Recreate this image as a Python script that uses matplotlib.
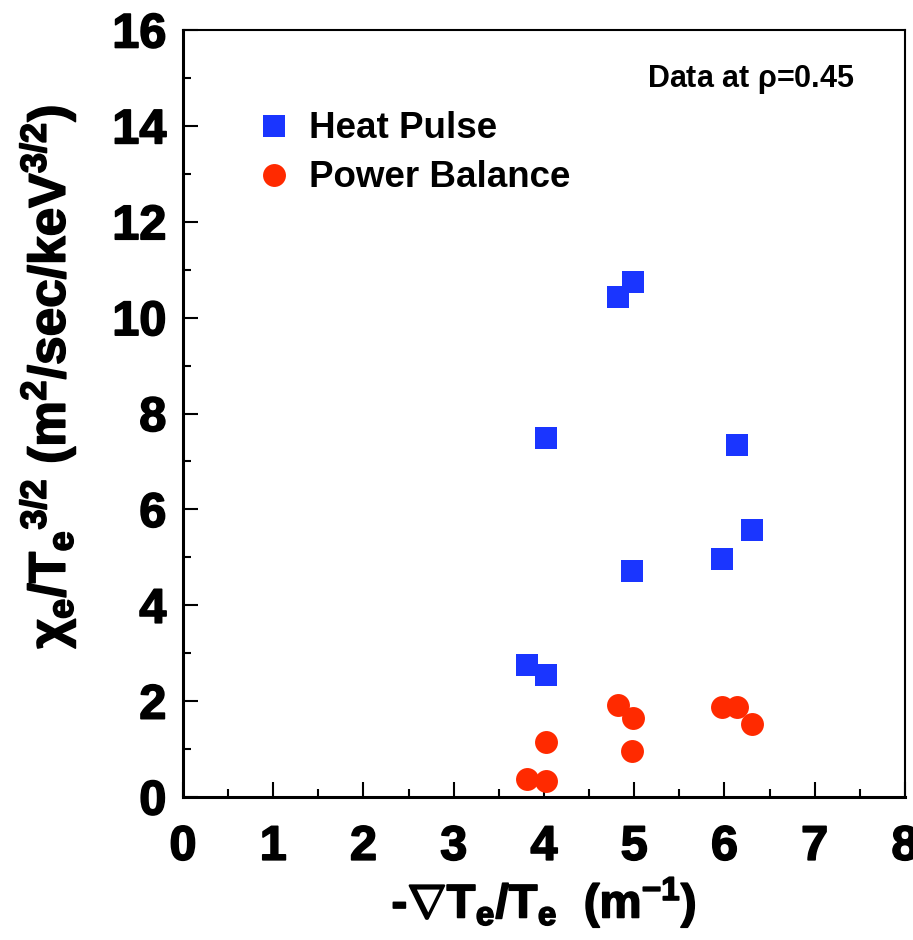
import matplotlib
matplotlib.use("Agg")
import matplotlib.pyplot as plt
import matplotlib.patheffects as pe
from matplotlib.ticker import MultipleLocator

plt.rcParams['font.family'] = ['Liberation Sans', 'DejaVu Sans']
plt.rcParams['font.weight'] = 'bold'
plt.rcParams['mathtext.fontset'] = 'custom'
plt.rcParams['mathtext.rm'] = 'Liberation Sans:bold'
plt.rcParams['mathtext.it'] = 'Liberation Sans:bold'
plt.rcParams['mathtext.bf'] = 'Liberation Sans:bold'

# gradient scale length and normalised diffusivity
grad_x = [3.81, 4.02, 4.02, 4.82, 4.99, 4.98, 5.97, 6.14, 6.30]
heat_pulse = [2.75, 2.54, 7.49, 10.43, 10.74, 4.71, 4.96, 7.34, 5.57]
grad_pb = [3.81, 4.02, 4.02, 4.82, 4.99, 4.98, 5.97, 6.14, 6.30]
power_balance = [0.37, 0.33, 1.15, 1.92, 1.65, 0.96, 1.88, 1.88, 1.52]

blue = '#1a35ff'
red = '#ff2a00'
heavy = [pe.withStroke(linewidth=1.2, foreground='black')]

fig = plt.figure(figsize=(9.13, 9.40), dpi=100)
ax = fig.add_axes([0.2004, 0.1521, 0.7908, 0.816])

ax.plot(grad_x, heat_pulse, 's', color=blue, markersize=15.5, mew=0,
        label='Heat Pulse', zorder=3)
ax.plot(grad_pb, power_balance, 'o', color=red, markersize=16.5, mew=0,
        label='Power Balance', zorder=3)

ax.set_xlim(0, 8)
ax.set_ylim(0, 16)
ax.xaxis.set_major_locator(MultipleLocator(1))
ax.xaxis.set_minor_locator(MultipleLocator(0.5))
ax.yaxis.set_major_locator(MultipleLocator(2))
ax.yaxis.set_minor_locator(MultipleLocator(1))
ax.tick_params(which='both', direction='in', top=False, right=False, width=1.5)
ax.tick_params(which='major', length=11, labelsize=35)
ax.tick_params(which='minor', length=6)
ax.tick_params(axis='x', pad=20)
ax.tick_params(axis='y', pad=12)
for lab in ax.get_xticklabels() + ax.get_yticklabels():
    lab.set_fontweight('bold')
    lab.set_path_effects(heavy)

ax.spines['left'].set_linewidth(2.2)
ax.spines['bottom'].set_linewidth(2.2)
ax.spines['top'].set_linewidth(1.5)
ax.spines['right'].set_linewidth(1.5)

xl = ax.set_xlabel(r'-$\nabla$T$_{\mathrm{e}}$/T$_{\mathrm{e}}$  (m$^{\mathrm{-1}}$)',
                   fontsize=34, fontweight='bold', labelpad=4)
yl = ax.set_ylabel(r'$\chi_{\mathrm{e}}$/T$_{\mathrm{e}}$$^{\mathrm{3/2}}$ (m$^{\mathrm{2}}$/sec/keV$^{\mathrm{3/2}}$)',
                   fontsize=37, fontweight='bold')
ax.yaxis.set_label_coords(-0.145, 0.548)
xl.set_path_effects(heavy)
yl.set_path_effects(heavy)

ax.text(0.93, 0.935, r'Data at $\rho$=0.45', transform=ax.transAxes,
        ha='right', va='center', fontsize=22, fontweight='bold')

leg = ax.legend(loc='upper left', bbox_to_anchor=(0.08, 0.913), frameon=False,
                fontsize=26.5, handletextpad=0.45, labelspacing=0.38,
                borderaxespad=0, handlelength=1.0)
for t in leg.get_texts():
    t.set_fontweight('bold')

fig.savefig('out.png', dpi=100)
